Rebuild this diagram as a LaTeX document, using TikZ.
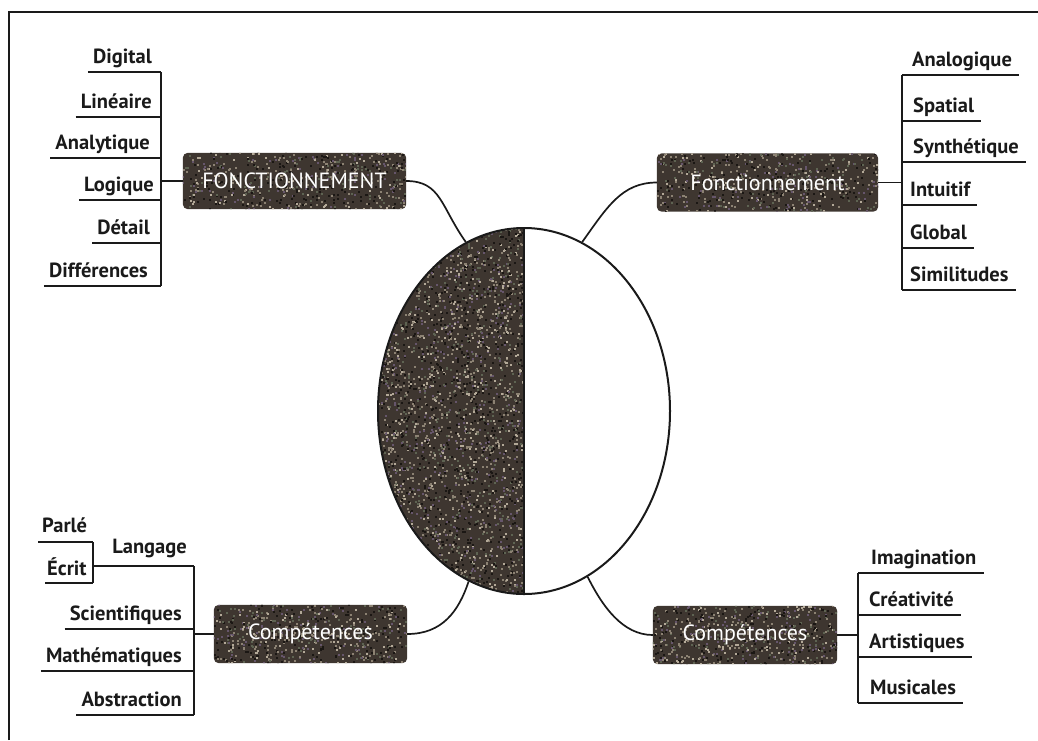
\documentclass[tikz,border=0pt]{standalone}
\usepackage{fontspec}
\setmainfont{PT Sans}
\usetikzlibrary{shapes.geometric,backgrounds,calc}

\definecolor{ink}{HTML}{1A1A1A}
\definecolor{grainbase}{HTML}{3E3630}
\definecolor{grainA}{HTML}{8C8273}
\definecolor{grainB}{HTML}{B3A998}
\definecolor{grainC}{HTML}{1B1714}
\definecolor{grainD}{HTML}{5E6352}
\definecolor{grainE}{HTML}{66566B}
\pgfmathdeclarerandomlist{grains}{{grainA}{grainB}{grainC}{grainD}{grainE}{grainC}{grainA}}

% scatter small grains over a rectangle (inside the current clip)
\newcommand\grainfill[5]{%
  \foreach \k in {1,...,#5}{%
    \pgfmathsetmacro\gx{#1+rnd*(#3-#1)}%
    \pgfmathsetmacro\gy{#2+rnd*(#4-#2)}%
    \pgfmathrandomitem\gc{grains}%
    \fill[\gc, sharp corners] (\gx,\gy) rectangle ++(2,2);%
  }}

% textured rounded background behind a heading node: name, x1, y1, x2, y2
\newcommand\boxtexture[5]{%
  \begin{scope}[on background layer]
    \begin{scope}
      \fill[grainbase, rounded corners=5pt] (#1.north west) rectangle (#1.south east);
      \clip[rounded corners=5pt] (#1.north west) rectangle (#1.south east);
      \grainfill{#2}{#3}{#4}{#5}{600}
    \end{scope}
  \end{scope}}

% list entries: name, text, text edge x, underline y, spine x
\newcommand\entryL[5]{%
  \node[entry, anchor=base east] (#1) at (#3,#4-9) {#2};
  \draw[link] let \p1=(#1.west) in (\x1-5,#4) -- (#5,#4);}
\newcommand\entryR[5]{%
  \node[entry, anchor=base west] (#1) at (#3,#4-9) {#2};
  \draw[link] let \p1=(#1.east) in (#5,#4) -- (\x1+7,#4);}

\tikzset{
  entry/.style={font=\fontsize{20.5}{23}\selectfont\bfseries, text=ink, inner sep=0pt},
  headbox/.style={font=\fontsize{22}{25}\selectfont, text=white, inner sep=0pt},
  link/.style={line width=1.7pt, draw=ink},
}

\begin{document}
\begin{tikzpicture}[x=1pt,y=-1pt]
\pgfmathsetseed{4242}
\useasboundingbox (0,0) rectangle (1038,740);

% frame
\draw[line width=2pt, ink] (9,740) -- (9,12) -- (1038,12);

% central ellipse, left half textured
\node[ellipse, draw=ink, line width=2pt, minimum width=292, minimum height=366, inner sep=0pt] (ell) at (524,411) {};
\draw[line width=1.6pt, ink] (ell.north) -- (ell.south);
\begin{scope}[on background layer]
  \begin{scope}
    \clip (524,411) ellipse [x radius=146, y radius=183];
    \fill[grainbase] (370,220) rectangle (524,600);
    \grainfill{376}{226}{523}{595}{3200}
  \end{scope}
\end{scope}

% heading boxes
\node[headbox, minimum width=223, minimum height=56] (fl) at (294.5,181) {FONCTIONNEMENT};
\node[headbox, minimum width=221, minimum height=58] (fr) at (767.5,182.5) {Fonctionnement};
\node[headbox, minimum width=193, minimum height=58] (bl) at (310.5,634) {Compétences};
\node[headbox, minimum width=184, minimum height=58] (br) at (745,635) {Compétences};
\boxtexture{fl}{182}{151}{406}{210}
\boxtexture{fr}{656}{152}{878}{212}
\boxtexture{bl}{213}{604}{407}{663}
\boxtexture{br}{652}{605}{837}{664}

% links from the boxes to the ellipse
\draw[link] (fl.east) .. controls +(35,0) and +(-25,-35) .. (ell.109);
\draw[link] (fr.west) .. controls +(-35,0) and +(25,-35) .. (ell.71);
\draw[link] (bl.east) .. controls +(35,0) and +(-10,30) .. (ell.252);
\draw[link] (br.west) .. controls +(-30,0) and +(15,30) .. (ell.291);

% ---- top left list
\coordinate (tls) at (161,183);
\draw[link] (161,72) -- (161,286);
\draw[link] (fl.west) -- (fl.west -| tls);
\entryL{digital}{Digital}{152}{72}{161}
\entryL{lineaire}{Linéaire}{152}{117}{161}
\entryL{analytique}{Analytique}{150}{158}{161}
\entryL{logique}{Logique}{154}{200}{161}
\entryL{detail}{Détail}{150}{243}{161}
\entryL{differences}{Différences}{148}{286}{161}

% ---- top right list
\coordinate (trs) at (902,183);
\draw[link] (902,75) -- (902,290);
\draw[link] (fr.east) -- (fr.east -| trs);
\entryR{analogique}{Analogique}{912}{75}{902}
\entryR{spatial}{Spatial}{913}{121}{902}
\entryR{synthetique}{Synthétique}{913}{162}{902}
\entryR{intuitif}{Intuitif}{910}{205}{902}
\entryR{global}{Global}{910}{248}{902}
\entryR{similitudes}{Similitudes}{910}{290}{902}

% ---- bottom left list
\coordinate (bls) at (194,634);
\draw[link] (194,566) -- (194,715);
\draw[link] (bl.west) -- (bl.west -| bls);
\node[entry, anchor=base east] (langage) at (187,553) {Langage};
\draw[link] (93,566) -- (194,566);
\draw[link] (93,542) -- (93,583);
\node[entry, anchor=base west] (parle) at (42,532) {Parlé};
\draw[link] (38,542) -- (93,542);
\node[entry, anchor=base west] (ecrit) at (47,575) {Écrit};
\draw[link] (45,583) -- (93,583);
\entryL{scientifiques}{Scientifiques}{182}{629}{194}
\entryL{mathematiques}{Mathématiques}{182}{671}{194}
\entryL{abstraction}{Abstraction}{182}{715}{194}

% ---- bottom right list
\coordinate (brs) at (858,636);
\draw[link] (858,573) -- (858,703);
\draw[link] (br.east) -- (br.east -| brs);
\entryR{imagination}{Imagination}{871}{573}{858}
\entryR{creativite}{Créativité}{869}{615}{858}
\entryR{artistiques}{Artistiques}{869}{657}{858}
\entryR{musicales}{Musicales}{870}{703}{858}
\end{tikzpicture}
\end{document}
